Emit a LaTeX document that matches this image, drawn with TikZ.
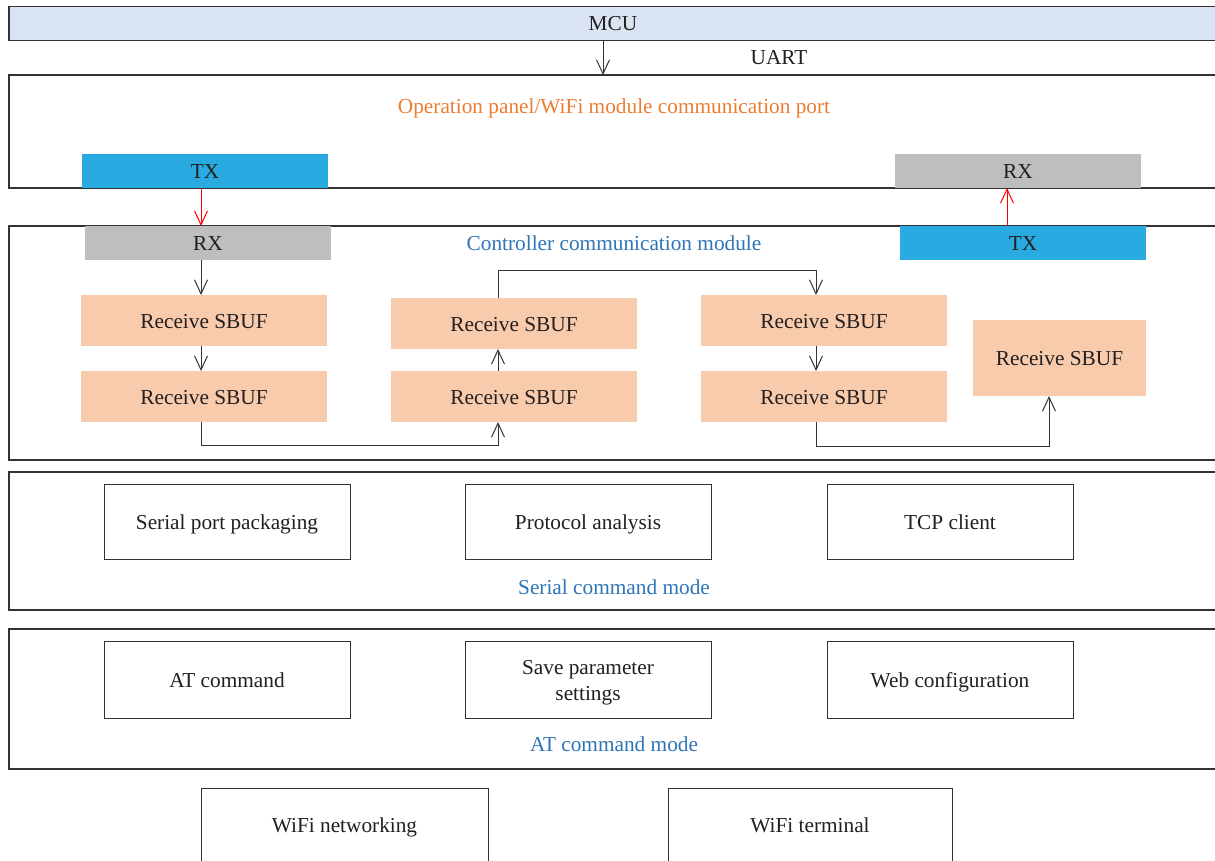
\documentclass[tikz,border=0pt]{standalone}
\usepackage{fontspec}
\setmainfont{Liberation Serif}
\usetikzlibrary{arrows.meta}
\definecolor{mcublue}{HTML}{DAE3F3}
\definecolor{txblue}{HTML}{29ABE2}
\definecolor{rxgray}{HTML}{BEBEBE}
\definecolor{peach}{HTML}{F8CBAD}
\definecolor{orangetxt}{HTML}{ED7D31}
\definecolor{bluetxt}{HTML}{2E75B6}
\definecolor{linec}{HTML}{333333}
\definecolor{txtc}{HTML}{231F20}
\begin{document}
\begin{tikzpicture}[x=1pt,y=-1pt,
  every node/.style={font=\fontsize{21.3}{26}\selectfont, text=txtc, inner sep=0pt, outer sep=0pt, text height=18pt, text depth=2.5pt},
  frame/.style={draw=linec, line width=1.4pt, anchor=north west},
  inbox/.style={draw=linec, line width=1pt, minimum width=246pt, minimum height=75pt, align=center},
  sbuf/.style={fill=peach, minimum width=246pt, minimum height=51pt},
  port/.style={minimum width=246pt, minimum height=34pt},
  arr/.style={draw=linec, line width=1pt, -{Straight Barb[length=14pt,width=13pt,line width=1pt]}},
  rarr/.style={draw=red, line width=1pt, -{Straight Barb[length=14pt,width=13pt,line width=1pt]}}
]
\clip (0,0) rectangle (1215,861);
\fill[white] (0,0) rectangle (1215,861);

% outer frames
\node[frame, fill=mcublue, minimum width=1220pt, minimum height=34pt] (mcu) at (9,6.5) {};
\node (mcut) at (613,23) {MCU};
\node[frame, minimum width=1220pt, minimum height=113pt] (op) at (9,75) {};
\node[text=orangetxt] (opt) at (614,106) {Operation panel/WiFi module communication port};
\node[frame, minimum width=1220pt, minimum height=234pt] (cc) at (9,226) {};
\node[text=bluetxt] (cct) at (614,243) {Controller communication module};
\node[frame, minimum width=1220pt, minimum height=138pt] (sc) at (9,472) {};
\node[text=bluetxt] (sct) at (614,587) {Serial command mode};
\node[frame, minimum width=1220pt, minimum height=140pt] (at) at (9,629) {};
\node[text=bluetxt] (att) at (614,744) {AT command mode};

\node (uart) at (779,57) {UART};

% ports
\node[port, fill=txblue] (txl) at (205,171) {TX};
\node[port, fill=rxgray] (rxr) at (1018,171) {RX};
\node[port, fill=rxgray] (rxl) at (208,243) {RX};
\node[port, fill=txblue] (txr) at (1023,243) {TX};

% SBUF boxes
\node[sbuf] (r1) at (204,320.5) {Receive SBUF};
\node[sbuf] (r2) at (204,396.5) {Receive SBUF};
\node[sbuf] (r3) at (514,323.5) {Receive SBUF};
\node[sbuf] (r4) at (514,396.5) {Receive SBUF};
\node[sbuf] (r5) at (824,320.5) {Receive SBUF};
\node[sbuf] (r6) at (824,396.5) {Receive SBUF};
\node[sbuf, minimum width=173pt, minimum height=76pt] (r7) at (1059.5,358) {Receive SBUF};

% serial command boxes
\node[inbox] (s1) at (227,521.5) {Serial port packaging};
\node[inbox] (s2) at (588,521.5) {Protocol analysis};
\node[inbox] (s3) at (950,521.5) {TCP client};
% AT command boxes
\node[inbox, minimum height=77pt] (a1) at (227,679.5) {AT command};
\node[inbox, minimum height=77pt] (a2) at (588,679.5) {};
\node[align=center, text height=, text depth=] (a2t) at (588,682.5) {Save parameter\\settings};
\node[inbox, minimum height=77pt] (a3) at (950,679.5) {Web configuration};
% bottom boxes
\node[inbox, minimum width=287pt, minimum height=110pt, anchor=north] (w1) at (344.5,788) {};
\node (w1t) at (344.5,825) {WiFi networking};
\node[inbox, minimum width=284pt, minimum height=110pt, anchor=north] (w2) at (810,788) {};
\node (w2t) at (810,825) {WiFi terminal};

% coordinates for connectors
\coordinate (xa) at (603,0);
\coordinate (xl) at (201,0);
\coordinate (xr) at (1007,0);
\coordinate (c1) at (498,0);
\coordinate (c2) at (816,0);
\coordinate (c3) at (1049,0);
\coordinate (yb1) at (0,445);
\coordinate (yt) at (0,270);
\coordinate (yb2) at (0,446);

% connectors
\draw[arr] (xa |- mcu.south) -- (xa |- op.north);
\draw[rarr] (xl |- txl.south) -- (xl |- rxl.north);
\draw[rarr] (xr |- txr.north) -- (xr |- rxr.south);
\draw[arr] (xl |- rxl.south) -- (xl |- r1.north);
\draw[arr] (xl |- r1.south) -- (xl |- r2.north);
\draw[arr] (xl |- r2.south) -- (xl |- yb1) -- (c1 |- yb1) -- (c1 |- r4.south);
\draw[arr] (c1 |- r4.north) -- (c1 |- r3.south);
\draw[arr] (c1 |- r3.north) -- (c1 |- yt) -- (c2 |- yt) -- (c2 |- r5.north);
\draw[arr] (c2 |- r5.south) -- (c2 |- r6.north);
\draw[arr] (c2 |- r6.south) -- (c2 |- yb2) -- (c3 |- yb2) -- (c3 |- r7.south);
\end{tikzpicture}
\end{document}
